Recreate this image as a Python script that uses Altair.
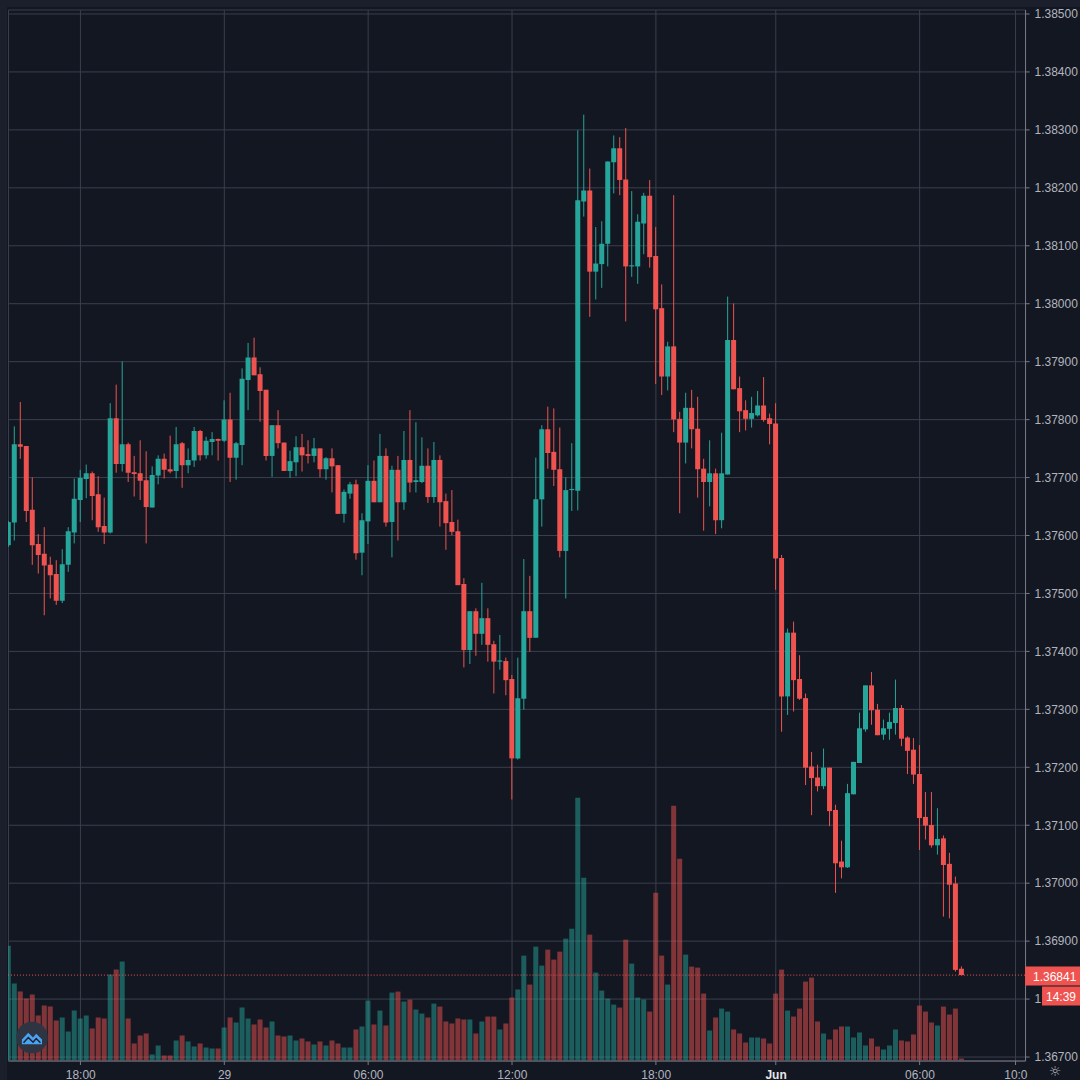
import altair as alt
import pandas as pd

# Candle prices, in 1e-5 price units
body_tops = [
 137623,137757,137757,137754,137644,137585,137568,137549,137533,137550,
 137607,137663,137699,137707,137707,137671,137616,137802,137802,137757,
 137757,137709,137707,137695,137704,137732,137732,137714,137757,137759,
 137730,137780,137780,137763,137766,137766,137800,137800,137759,137870,
 137907,137907,137878,137851,137790,137790,137760,137728,137752,137752,
 137740,137750,137750,137733,137733,137721,137675,137688,137688,137626,
 137694,137694,137737,137737,137713,137713,137730,137730,137695,137720,
 137720,137730,137730,137659,137623,137607,137516,137469,137469,137457,
 137457,137412,137384,137383,137352,137319,137469,137469,137662,137783,
 137783,137744,137714,137678,137680,138178,138195,138195,138069,138103,
 138245,138268,138268,138214,138066,138141,138186,138186,138082,137992,
 137926,137926,137801,137820,137820,137784,137715,137707,137707,137707,
 137937,137937,137854,137816,137811,137824,137824,137802,137793,137561,
 137432,137432,137352,137319,137201,137182,137199,137199,137126,137037,
 137155,137209,137267,137341,137341,137299,137267,137278,137302,137302,
 137251,137230,137188,137114,137100,137076,137077,137033,136999,136852]
body_bottoms = [
 137583,137622,137753,137642,137583,137566,137548,137531,137487,137487,
 137549,137605,137661,137697,137668,137614,137605,137605,137723,137723,
 137708,137706,137694,137649,137648,137703,137713,137710,137711,137721,
 137721,137729,137738,137738,137761,137763,137763,137734,137734,137756,
 137868,137876,137849,137737,137737,137759,137711,137711,137726,137738,
 137737,137737,137714,137714,137719,137637,137637,137672,137569,137570,
 137624,137657,137657,137622,137623,137657,137657,137691,137692,137692,
 137666,137666,137657,137621,137606,137514,137402,137402,137430,137430,
 137411,137382,137382,137350,137215,137215,137318,137423,137423,137662,
 137742,137713,137573,137573,137678,137677,138176,138055,138055,138068,
 138103,138244,138213,138064,138064,138064,138138,138080,137990,137874,
 137874,137800,137760,137760,137783,137714,137692,137692,137626,137626,
 137705,137852,137814,137801,137801,137807,137799,137792,137560,137322,
 137322,137350,137318,137199,137181,137167,137167,137124,137034,137027,
 137027,137153,137207,137265,137298,137255,137256,137266,137276,137249,
 137228,137187,137112,137099,137065,137065,137031,136997,136850,136841]
highs = [
 137625,137788,137830,137754,137700,137602,137614,137563,137557,137576,
 137614,137698,137713,137722,137710,137702,137665,137828,137860,137900,
 137760,137737,137764,137745,137719,137738,137741,137772,137787,137761,
 137750,137787,137782,137770,137778,137767,137833,137846,137761,137888,
 137932,137941,137890,137851,137790,137816,137760,137746,137771,137775,
 137764,137768,137750,137735,137750,137721,137679,137692,137696,137638,
 137721,137729,137775,137750,137720,137737,137780,137816,137795,137769,
 137750,137761,137738,137672,137678,137627,137526,137469,137474,137518,
 137474,137418,137428,137389,137359,137389,137559,137530,137734,137790,
 137822,137819,137786,137700,137759,138299,138326,138233,138132,138142,
 138245,138290,138287,138303,138194,138154,138191,138213,138132,138033,
 137934,138187,137813,137846,137851,137839,137732,137764,137715,137777,
 138012,138000,137874,137833,137839,137849,137873,137810,137828,137566,
 137439,137451,137393,137327,137226,137204,137232,137199,137135,137073,
 137171,137209,137294,137341,137364,137309,137282,137294,137351,137307,
 137253,137250,137238,137157,137157,137129,137082,137052,137011,136856]
lows = [
 137580,137591,137732,137623,137549,137534,137462,137491,137480,137483,
 137537,137586,137623,137664,137626,137606,137585,137603,137708,137710,
 137692,137667,137661,137586,137648,137688,137698,137707,137698,137682,
 137707,137718,137729,137732,137738,137729,137761,137692,137696,137721,
 137816,137876,137796,137729,137701,137750,137711,137699,137702,137710,
 137724,137726,137700,137696,137674,137637,137622,137663,137558,137531,
 137585,137657,137657,137615,137562,137591,137644,137674,137674,137690,
 137656,137656,137615,137575,137600,137514,137372,137378,137392,137411,
 137382,137327,137368,137324,137144,137213,137299,137399,137423,137615,
 137715,137685,137562,137491,137642,137643,138150,137977,138007,138027,
 138064,138190,138187,137969,138046,138034,138085,138062,137861,137842,
 137850,137778,137638,137724,137750,137665,137608,137650,137602,137612,
 137705,137852,137778,137781,137786,137805,137796,137757,137506,137261,
 137290,137296,137316,137169,137117,137158,137162,137098,136983,137008,
 137026,137153,137207,137261,137273,137255,137247,137247,137256,137236,
 137188,137171,137057,137075,137061,137049,136942,136939,136847,136841]
volumes = [
 115,77,69,62,66,45,55,54,40,43,
 29,50,42,45,32,43,42,86,91,99,
 42,17,25,27,6,15,5,5,20,25,
 19,14,17,13,12,12,33,43,38,53,
 42,36,41,33,39,25,24,25,20,22,
 19,16,19,15,20,17,13,13,31,34,
 60,36,50,35,68,69,59,61,51,47,
 43,57,54,39,37,42,41,41,27,39,
 44,44,31,37,63,71,105,76,114,95,
 111,101,109,122,132,263,183,126,88,70,
 62,56,53,121,97,63,61,49,168,105,
 76,255,202,106,94,93,67,30,43,52,
 49,31,27,18,23,23,22,17,67,91,
 50,44,52,79,83,39,27,21,31,34,
 34,23,28,15,22,14,11,15,31,20,
 19,26,55,49,38,35,54,46,52,2]
directions = ("TT" "RRRRRRR" "TTTTT" "RRR" "T" "R" "T" "RRRR" "TT" "RR" "T" "R" "TT" "R" "TT" "R" "T" "R"
              "TTT" "RRR" "T" "RR" "TT" "RR" "T" "R" "T" "RR" "TT" "R" "TT" "R" "T" "R" "T" "R" "T" "R"
              "TT" "R" "T" "RRRRR" "T" "R" "T" "RR" "T" "RR" "TT" "R" "TT" "RRR" "TTTT" "R" "TTTT" "RR"
              "TTT" "RRR" "T" "RR" "T" "RRR" "T" "R" "TT" "RRR" "TT" "RRRR" "T" "RRRRR" "T" "RRR" "TTTT"
              "RR" "TTT" "RRRRRR" "T" "RRRR")

price_ticks = [1.367 + i * 0.001 for i in range(19)]
time_ticks = [12, 36, 60, 84, 108, 128, 152, 168]
time_labels = ["18:00", "29", "06:00", "12:00", "18:00", "Jun", "06:00", "10:0"]
last_price = 1.36841
last_label = "1.36841"
countdown = "14:39"

UP, DOWN = "#26a69a", "#ef5350"
BG = "#131722"
PAGE = "#1b1f2b"
GRID = "#3a3f4e"
TXT = "#b2b5be"
FONT = "Liberation Sans"
W, H = 1018, 1052

df = pd.DataFrame({
    "k": range(len(highs)),
    "top": [v / 1e5 for v in body_tops],
    "bottom": [v / 1e5 for v in body_bottoms],
    "high": [v / 1e5 for v in highs],
    "low": [v / 1e5 for v in lows],
    "volume": volumes,
    "dir": list(directions),
})

xs = alt.Scale(domain=[-0.05, 169.6167], nice=False, zero=False, padding=0)
ys = alt.Scale(domain=[1.366936, 1.385074], nice=False, zero=False, padding=0)
vs = alt.Scale(domain=[0, H], nice=False, zero=True, padding=0)
cs = alt.Scale(domain=["T", "R"], range=[UP, DOWN])
color = alt.Color("dir:N", scale=cs, legend=None)

label_expr = "{" + ",".join(f"'{k}':'{t}'" for k, t in zip(time_ticks, time_labels)) + "}[datum.value]"
x_axis = alt.Axis(values=time_ticks, labelExpr=label_expr, title=None, grid=True, gridColor=GRID,
                  domain=True, domainColor="#787b86", tickColor="#787b86", tickSize=4, labelColor=
                  {"condition": {"test": "datum.value==128", "value": "#e6e7ea"}, "value": TXT},
                  labelFontWeight={"condition": {"test": "datum.value==128", "value": "bold"}, "value": "normal"},
                  labelFont=FONT, labelFontSize=12, labelPadding=5, labelOverlap=False, labelFlush=False)
y_axis = alt.Axis(orient="right", values=price_ticks, format=".5f", title=None, grid=True, gridColor=GRID,
                  domain=True, domainColor="#787b86", tickColor="#787b86", tickSize=4, labelColor=TXT,
                  labelFont=FONT, labelFontSize=12, labelPadding=5, labelOverlap=False, labelFlush=False)

base = alt.Chart(df)
frame = base.mark_rule(opacity=0).encode(
    x=alt.X("k:Q", scale=xs, axis=x_axis), y=alt.Y("high:Q", scale=ys, axis=y_axis))
x_plain = alt.X("k:Q", scale=xs, axis=None)

vol = base.mark_bar(size=5, opacity=0.5, clip=True).encode(
    x=x_plain, y=alt.Y("volume:Q", scale=vs, axis=None), color=color)
wick = base.mark_rule(strokeWidth=1, clip=True).encode(
    x=x_plain, y=alt.Y("low:Q", scale=ys, axis=None), y2="high:Q", color=color)
body = base.mark_bar(size=5, clip=True).encode(
    x=x_plain, y=alt.Y("bottom:Q", scale=ys, axis=None), y2="top:Q", color=color)

last_df = pd.DataFrame({"p": [last_price], "t": [last_label], "c": [countdown]})
lbase = alt.Chart(last_df)
last_line = lbase.mark_rule(color=DOWN, strokeWidth=1, strokeDash=[1, 2]).encode(
    y=alt.Y("p:Q", scale=ys, axis=None), x=alt.value(0), x2=alt.value(W))
tag1 = lbase.mark_rect(color=DOWN).encode(
    x=alt.value(W), x2=alt.value(1073), y=alt.value(958), y2=alt.value(977))
tag1t = lbase.mark_text(color="#ffffff", font=FONT, fontSize=12, align="left", baseline="middle").encode(
    text="t:N", x=alt.value(W + 8), y=alt.value(968))
tag2 = lbase.mark_rect(color=DOWN).encode(
    x=alt.value(1035), x2=alt.value(1073), y=alt.value(978), y2=alt.value(997))
tag2t = lbase.mark_text(color="#ffffff", font=FONT, fontSize=12, align="left", baseline="middle").encode(
    text="c:N", x=alt.value(1039), y=alt.value(988))

logo_bg = lbase.mark_point(shape="circle", size=1000, filled=True, color="#2e3442", opacity=1).encode(
    x=alt.value(24), y=alt.value(1029))
logo = lbase.mark_point(
    shape="M-0.95,0.55 L-0.95,0.1 L-0.35,-0.55 L0.1,-0.1 L0.4,-0.45 L0.95,0.1 L0.95,0.55 Z",
    size=450, filled=True, color="#4aa3f0", opacity=1).encode(x=alt.value(24), y=alt.value(1030))
logo_line = lbase.mark_point(
    shape="M-0.8,0.4 L-0.35,-0.1 L0.1,0.35 L0.4,0 L0.8,0.4",
    size=450, filled=False, color="#1c2230", strokeWidth=1.5, opacity=1).encode(x=alt.value(24), y=alt.value(1030))
gear = lbase.mark_text(text="\u263c", color=TXT, font="DejaVu Sans", fontSize=14, baseline="middle").encode(
    x=alt.value(1048), y=alt.value(1063))

chart = alt.layer(frame, vol, wick, body, last_line, tag1, tag1t, tag2, tag2t,
                  logo_bg, logo, logo_line, gear).resolve_scale(y="independent").resolve_axis(
    x="independent").properties(
    width=W, height=H, background=BG, padding=0
).configure_view(stroke=GRID)

css = (f"html{{background:{PAGE};width:1080px;height:1080px;overflow:hidden}}"
       f"body{{background:{PAGE};margin:7px 0 0 7px;width:1073px;height:1073px;overflow:hidden}}"
       "svg{display:block}")
chart.save("out.html", embed_options={"renderer": "svg", "actions": False, "defaultStyle": css})
